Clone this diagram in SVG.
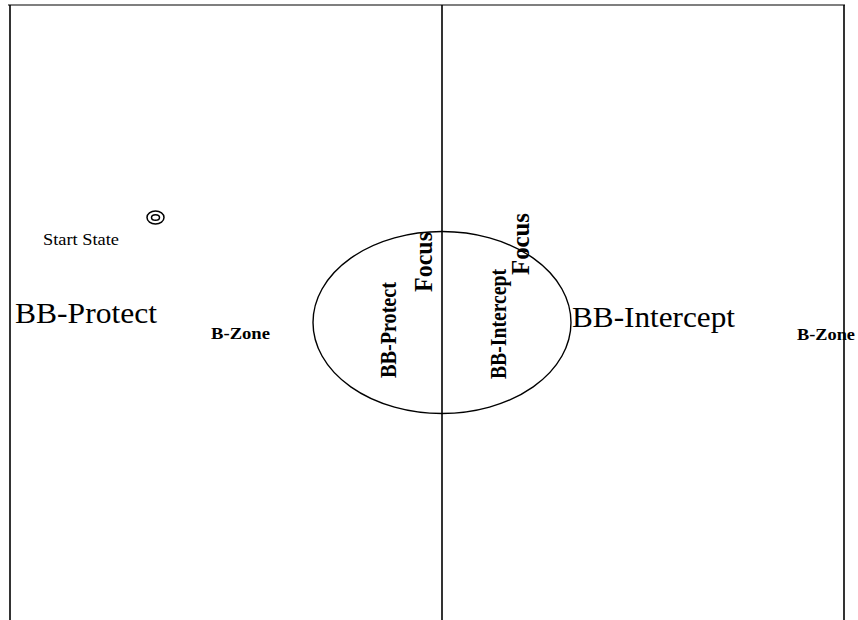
<svg xmlns="http://www.w3.org/2000/svg" width="858" height="620" viewBox="0 0 858 620">
<style>
.frame{stroke:#000;stroke-width:1.6;fill:none}
.top{stroke:#555;stroke-width:1.4;fill:none}
.shape{stroke:#000;stroke-width:1.4;fill:none}
.icon{stroke:#000;stroke-width:1.5;fill:none}
.big{font-family:"Liberation Serif","Times New Roman",serif;font-size:29px;fill:#000}
.small{font-family:"Liberation Serif","Times New Roman",serif;font-size:16px;fill:#000}
.zone{font-family:"Liberation Serif","Times New Roman",serif;font-size:16px;font-weight:bold;fill:#000}
.vert{font-family:"Liberation Serif","Times New Roman",serif;font-size:24px;font-weight:bold;fill:#000}
.focus{font-family:"Liberation Serif","Times New Roman",serif;font-size:25px;font-weight:bold;fill:#000}
</style>
<rect width="858" height="620" fill="#fff"/>
<g id="connectors">
<line class="top" x1="8" y1="5" x2="845" y2="5"/>
<line class="frame" x1="10" y1="5" x2="10" y2="620"/>
<line class="frame" x1="442" y1="5" x2="442" y2="620"/>
<line class="frame" x1="844" y1="5" x2="844" y2="620"/>
</g>
<g id="start-state">
<ellipse class="icon" cx="155.5" cy="217.5" rx="8.5" ry="6.5"/>
<ellipse class="icon" cx="155.5" cy="217.5" rx="4" ry="2.8"/>
<text class="small" x="43" y="245" textLength="76" lengthAdjust="spacingAndGlyphs">Start State</text>
</g>
<g id="bb-protect">
<text class="big" x="15" y="323" textLength="142" lengthAdjust="spacingAndGlyphs">BB-Protect</text>
<text class="zone" x="211" y="339" textLength="59" lengthAdjust="spacingAndGlyphs">B-Zone</text>
</g>
<g id="bb-intercept">
<text class="big" x="572" y="327" textLength="163" lengthAdjust="spacingAndGlyphs">BB-Intercept</text>
<text class="zone" x="797" y="340" textLength="58" lengthAdjust="spacingAndGlyphs">B-Zone</text>
</g>
<g id="focus-ellipse">
<ellipse class="shape" cx="442" cy="322.5" rx="129" ry="91"/>
<text class="vert" transform="translate(396,378) rotate(-90)" textLength="96" lengthAdjust="spacingAndGlyphs">BB-Protect</text>
<text class="focus" transform="translate(432,292) rotate(-90)" textLength="60" lengthAdjust="spacingAndGlyphs">Focus</text>
<text class="vert" transform="translate(506,379) rotate(-90)" textLength="110" lengthAdjust="spacingAndGlyphs">BB-Intercept</text>
<text class="focus" transform="translate(529,275) rotate(-90)" textLength="62" lengthAdjust="spacingAndGlyphs">Focus</text>
</g>
</svg>
